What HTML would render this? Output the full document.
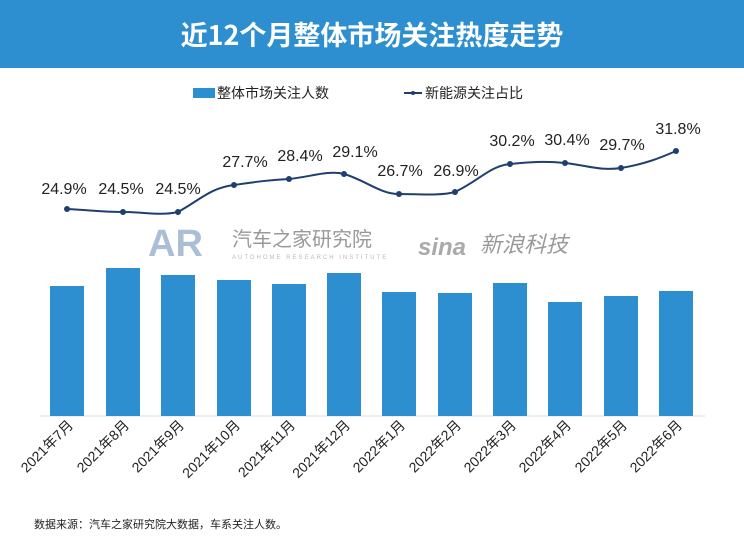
<!DOCTYPE html>
<html><head><meta charset="utf-8"><style>
body{margin:0;width:744px;height:550px;background:#fff;overflow:hidden;font-family:"Liberation Sans","Noto Sans CJK SC",sans-serif;}
</style></head><body>
<svg width="744" height="550" xmlns="http://www.w3.org/2000/svg" font-family="Liberation Sans, Noto Sans CJK SC, sans-serif">
<rect x="0" y="0" width="744" height="68" fill="#2e8fd0"/>
<text x="372" y="45" text-anchor="middle" font-size="27" font-weight="bold" fill="#fff" font-family="Noto Sans CJK SC, sans-serif">近12个月整体市场关注热度走势</text>
<rect x="193" y="88" width="22" height="10" fill="#2e8fd0"/>
<text x="217" y="98" font-size="14" fill="#222">整体市场关注人数</text>
<line x1="404" y1="93" x2="422" y2="93" stroke="#1f3f6e" stroke-width="2"/><circle cx="413" cy="93" r="2" fill="#1f3f6e"/>
<text x="425" y="98" font-size="14" fill="#222">新能源关注占比</text>
<!-- watermarks -->
<text x="148" y="256" font-size="38" font-weight="bold" fill="#8aa3c4" opacity="0.7">AR</text>
<text x="232" y="246" font-size="20" fill="#999">汽车之家研究院</text>
<text x="232" y="259" font-size="6" fill="#bbb" letter-spacing="2">AUTOHOME RESEARCH INSTITUTE</text>
<text x="418" y="255" font-size="24" font-weight="bold" font-style="italic" fill="#aaa">sina</text>
<text x="480" y="252" font-size="22" font-style="italic" fill="#999">新浪科技</text>
<line x1="40" y1="416" x2="705" y2="416" stroke="#ddd"/>
<g fill="#2e8fd0">
<rect x="50" y="286" width="34" height="130"/>
<rect x="106" y="268" width="34" height="148"/>
<rect x="161" y="275" width="34" height="141"/>
<rect x="217" y="280" width="34" height="136"/>
<rect x="272" y="284" width="34" height="132"/>
<rect x="327" y="273" width="34" height="143"/>
<rect x="382" y="292" width="34" height="124"/>
<rect x="438" y="293" width="34" height="123"/>
<rect x="493" y="283" width="34" height="133"/>
<rect x="548" y="302" width="34" height="114"/>
<rect x="604" y="296" width="34" height="120"/>
<rect x="659" y="291" width="34" height="125"/>
</g>
<path d="M67,209 C90,210 100,212 123,212 C145,212 160,216 178,212 C200,200 210,188 234,185 C255,182 268,180 289,179 C310,177 328,170 344,174 C365,180 380,194 399,194 C420,194 440,196 455,192 C480,180 490,166 510,164 C530,162 545,161 565,163 C590,166 600,171 621,168 C645,164 660,158 676,151" fill="none" stroke="#1f3f6e" stroke-width="2"/>
<g fill="#1f3f6e">
<circle cx="67" cy="209" r="3"/><circle cx="123" cy="212" r="3"/><circle cx="178" cy="212" r="3"/><circle cx="234" cy="185" r="3"/><circle cx="289" cy="179" r="3"/><circle cx="344" cy="174" r="3"/><circle cx="399" cy="194" r="3"/><circle cx="455" cy="192" r="3"/><circle cx="510" cy="164" r="3"/><circle cx="565" cy="163" r="3"/><circle cx="621" cy="168" r="3"/><circle cx="676" cy="151" r="3"/>
</g>
<g font-size="16" fill="#222" text-anchor="middle">
<text x="64" y="194">24.9%</text><text x="121" y="194">24.5%</text><text x="178" y="194">24.5%</text>
<text x="245" y="167">27.7%</text><text x="300" y="161">28.4%</text><text x="355" y="157">29.1%</text>
<text x="400" y="176">26.7%</text><text x="456" y="176">26.9%</text><text x="512" y="146">30.2%</text>
<text x="567" y="145">30.4%</text><text x="622" y="150">29.7%</text><text x="678" y="134">31.8%</text>
</g>
<g font-size="14" fill="#222" text-anchor="end">
<text transform="translate(74,426) rotate(-45)">2021年7月</text>
<text transform="translate(130,426) rotate(-45)">2021年8月</text>
<text transform="translate(185,426) rotate(-45)">2021年9月</text>
<text transform="translate(241,426) rotate(-45)">2021年10月</text>
<text transform="translate(296,426) rotate(-45)">2021年11月</text>
<text transform="translate(351,426) rotate(-45)">2021年12月</text>
<text transform="translate(406,426) rotate(-45)">2022年1月</text>
<text transform="translate(462,426) rotate(-45)">2022年2月</text>
<text transform="translate(517,426) rotate(-45)">2022年3月</text>
<text transform="translate(572,426) rotate(-45)">2022年4月</text>
<text transform="translate(628,426) rotate(-45)">2022年5月</text>
<text transform="translate(683,426) rotate(-45)">2022年6月</text>
</g>
<text x="34" y="528" font-size="11" fill="#222">数据来源：汽车之家研究院大数据，车系关注人数。</text>
</svg>
</body></html>
